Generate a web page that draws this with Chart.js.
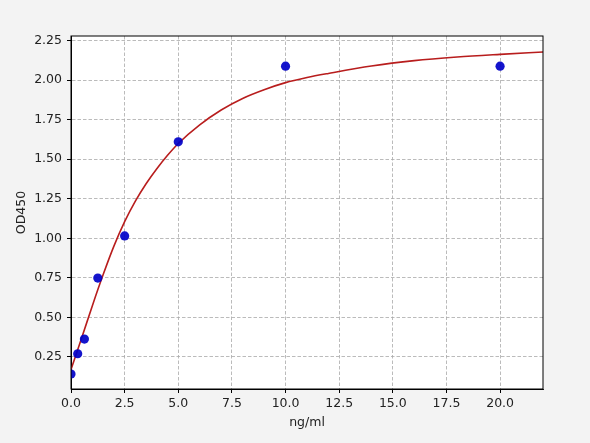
<!DOCTYPE html>
<html>
<head>
<meta charset="utf-8">
<script src="https://cdn.jsdelivr.net/npm/chart.js@4.4.1/dist/chart.umd.min.js"></script>
<style>
    html, body { margin: 0; padding: 0; background: #f3f3f3; }
    #wrap { width: 590px; height: 443px; }
</style>
</head>
<body>
<div id="wrap"><canvas id="curveChart" width="590" height="443"></canvas></div>
<script>
// nồng độ chuẩn và OD đo được
const concentrations = [0, 0.3125, 0.625, 1.25, 2.5, 5, 10, 20];
const odValues = [0.141, 0.269, 0.362, 0.748, 1.015, 1.61, 2.089, 2.089];

// đường fit
const fitX = [0, 0.5, 1, 1.5, 2, 2.5, 3, 3.5, 4, 4.5, 5, 6, 7, 8, 9, 10, 11, 12, 14, 16, 18, 20, 22];
const fitY = [0.17, 0.37, 0.575, 0.77, 0.95, 1.105, 1.235, 1.345, 1.44, 1.525, 1.60, 1.718, 1.812, 1.885, 1.94, 1.985, 2.017, 2.043, 2.09, 2.124, 2.147, 2.164, 2.179];

const xTicks = [0, 2.5, 5, 7.5, 10, 12.5, 15, 17.5, 20];
const yTicks = [0.25, 0.5, 0.75, 1.0, 1.25, 1.5, 1.75, 2.0, 2.25];

const FONT = { family: 'DejaVu Sans', size: 12.5 };

// nền xám ngoài, vùng vẽ trắng, khung đen
const framePlugin = {
    id: 'frame',
    beforeDraw(chart) {
        const { ctx, chartArea: a } = chart;
        ctx.save();
        ctx.fillStyle = '#f3f3f3';
        ctx.fillRect(0, 0, chart.width, chart.height);
        ctx.fillStyle = '#ffffff';
        ctx.fillRect(a.left, a.top, a.right - a.left, a.bottom - a.top);
        ctx.restore();
    },
    afterDraw(chart) {
        const { ctx, chartArea: a } = chart;
        ctx.save();
        ctx.strokeStyle = '#000';
        ctx.lineWidth = 1;
        ctx.strokeRect(a.left, a.top, a.right - a.left, a.bottom - a.top);
        ctx.restore();
    }
};

new Chart(document.getElementById('curveChart').getContext('2d'), {
    type: 'scatter',
    data: {
        datasets: [
            {
                label: 'fit',
                data: fitX.map((x, i) => ({ x: x, y: fitY[i] })),
                showLine: true,
                borderColor: '#b81d1d',
                borderWidth: 1.6,
                pointRadius: 0,
                cubicInterpolationMode: 'monotone',
                clip: 0,
                order: 2
            },
            {
                label: 'OD',
                data: concentrations.map((x, i) => ({ x: x, y: odValues[i] })),
                backgroundColor: 'rgba(0, 0, 200, 0.92)',
                borderWidth: 0,
                pointRadius: 4.6,
                clip: 0,
                order: 1
            }
        ]
    },
    options: {
        responsive: false,
        animation: false,
        devicePixelRatio: 1,
        layout: { padding: { top: 36, right: 47, left: 0, bottom: 0 } },
        plugins: {
            legend: { display: false },
            tooltip: { enabled: false }
        },
        scales: {
            x: {
                type: 'linear',
                min: 0,
                max: 22,
                afterBuildTicks: s => { s.ticks = xTicks.map(v => ({ value: v })); },
                afterFit: s => { s.height = 54; },
                ticks: {
                    color: '#222',
                    font: FONT,
                    padding: 3,
                    maxRotation: 0,
                    callback: v => v.toFixed(1)
                },
                grid: {
                    color: '#aaaaaa',
                    lineWidth: 0.8,
                    tickColor: '#000',
                    tickLength: 4,
                    tickWidth: 1
                },
                border: { color: '#000', width: 1, dash: [3.5, 2] },
                title: {
                    display: true,
                    text: 'ng/ml',
                    color: '#222',
                    font: FONT,
                    padding: { top: 0, bottom: 13 }
                }
            },
            y: {
                type: 'linear',
                min: 0.046,
                max: 2.28,
                afterBuildTicks: s => { s.ticks = yTicks.map(v => ({ value: v })); },
                afterFit: s => { s.width = 71; },
                ticks: {
                    color: '#222',
                    font: FONT,
                    padding: 5,
                    callback: v => v.toFixed(2)
                },
                grid: {
                    color: '#aaaaaa',
                    lineWidth: 0.8,
                    tickColor: '#000',
                    tickLength: 4,
                    tickWidth: 1
                },
                border: { color: '#000', width: 1, dash: [3.5, 2] },
                title: {
                    display: true,
                    text: 'OD450',
                    color: '#222',
                    font: FONT,
                    padding: { top: 14.5, bottom: 0 }
                }
            }
        }
    },
    plugins: [framePlugin]
});
</script>
</body>
</html>
